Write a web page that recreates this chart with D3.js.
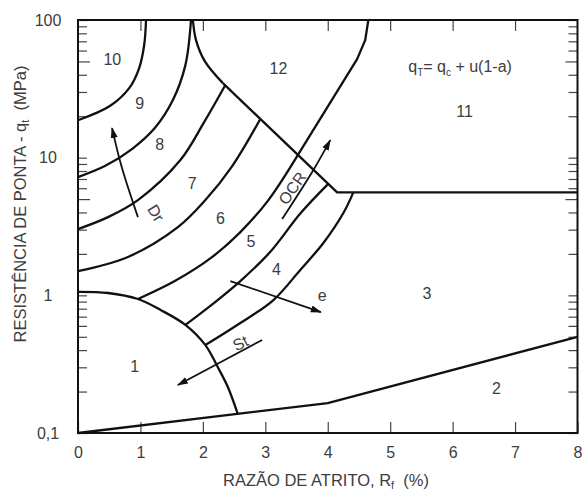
<!DOCTYPE html>
<html>
<head>
<meta charset="utf-8">
<script src="https://cdn.jsdelivr.net/npm/d3@7"></script>
<style>
  body { margin: 0; background: #fff; }
  text { font-family: "Liberation Sans", Arial, sans-serif; fill: #3d3d3d; }
</style>
</head>
<body>
<svg></svg>
<script>
const width = 582;
const height = 490;
const margin = {left: 78, right: 4.5, top: 20, bottom: 57};

// tick values
const xTicks = [0, 1, 2, 3, 4, 5, 6, 7, 8];
const yLabels = [0.1, 1, 10, 100];

// zone boundaries, points as [Rf (%), qt (MPa)]
const zone1Top = [[0, 1.06], [0.48, 1.04], [0.96, 0.94], [1.33, 0.78], [1.72, 0.61], [2.04, 0.435], [2.24, 0.30], [2.40, 0.216], [2.56, 0.137]];
const zone2Top = [[0, 0.1], [4.0, 0.165], [8, 0.5]];
const arc43 = [[2.04, 0.435], [2.60, 0.629], [3.13, 0.924], [3.56, 1.53], [3.93, 2.40], [4.25, 3.96], [4.41, 5.6]];
const arc54 = [[1.72, 0.61], [2.15, 0.86], [2.60, 1.27], [3.08, 2.07], [3.56, 3.93], [4.0, 6.4]];
const arc65 = [[0.96, 0.94], [1.55, 1.27], [2.13, 1.87], [2.60, 2.88], [3.05, 4.92], [3.53, 10.6]];
const line1211 = [[3.53, 10.6], [4.47, 52], [4.60, 71.4], [4.65, 100]];
const arc76 = [[0, 1.50], [0.80, 1.90], [1.60, 3.13], [2.04, 4.92], [2.47, 8.69], [2.92, 19.1]];
const arc87 = [[0, 3.03], [0.48, 3.70], [0.96, 4.92], [1.64, 9.61], [2.02, 18.1], [2.36, 33.7]];
const arc98 = [[0, 7.23], [0.43, 8.69], [0.87, 11.6], [1.23, 16.4], [1.52, 26.2], [1.72, 47.0], [1.81, 100]];
const arc109 = [[0, 18.7], [0.51, 23.7], [0.82, 32.0], [0.98, 44.8], [1.06, 65.8], [1.09, 100]];
const zone12Cusp = [[1.84, 100], [1.89, 71.4], [2.03, 50.3], [2.32, 34.8]];
const zone11Bottom = [[2.32, 34.8], [4.15, 5.6], [8, 5.6]];

// trend arrows
const arrowDr = [[0.96, 3.70], [0.70, 8.55], [0.545, 16.4]];
const arrowOCR = [[3.27, 3.58], [3.77, 8.13], [4.04, 13.4]];
const arrowE = [[2.44, 1.27], [3.89, 0.756]];
const arrowSt = [[2.95, 0.474], [1.60, 0.223]];

const zoneLabels = [
  {z: "1", rf: 0.91, qt: 0.304}, {z: "2", rf: 6.70, qt: 0.212},
  {z: "3", rf: 5.59, qt: 1.04}, {z: "4", rf: 3.18, qt: 1.55},
  {z: "5", rf: 2.77, qt: 2.46}, {z: "6", rf: 2.28, qt: 3.61},
  {z: "7", rf: 1.83, qt: 6.49}, {z: "8", rf: 1.31, qt: 12.6},
  {z: "9", rf: 0.99, qt: 24.7}, {z: "10", rf: 0.55, qt: 52},
  {z: "11", rf: 6.19, qt: 21.6}, {z: "12", rf: 3.21, qt: 44.4}
];
const trendLabels = [
  {t: "Dr", rf: 1.25, qt: 3.96, rot: 58},
  {t: "OCR", rf: 3.43, qt: 6.01, rot: -55},
  {t: "St", rf: 2.60, qt: 0.451, rot: -27},
  {t: "e", rf: 3.91, qt: 1.0, rot: 0}
];

const svg = d3.select("svg")
    .attr("width", width)
    .attr("height", height);

const x = d3.scaleLinear()
    .domain([0, 8])
    .range([margin.left, width - margin.right]);

const y = d3.scaleLog()
    .domain([0.1, 100])
    .range([height - margin.bottom, margin.top]);

svg.append("defs").append("marker")
    .attr("id", "head")
    .attr("markerUnits", "userSpaceOnUse")
    .attr("markerWidth", 12)
    .attr("markerHeight", 8)
    .attr("refX", 10)
    .attr("refY", 4)
    .attr("orient", "auto")
  .append("path")
    .attr("d", "M0,0.5L11,4L0,7.5Z")
    .attr("fill", "#111");

// minor log ticks
const yTicks = [];
[0.1, 1, 10].forEach(dec => d3.range(1, 10).forEach(k => yTicks.push(+(k * dec).toPrecision(3))));
yTicks.push(100);
const tickLen = d => (String(d)[0] === "5" ? 12 : 9);

const bottom = svg.append("g")
    .attr("transform", `translate(0,${height - margin.bottom})`)
    .call(d3.axisBottom(x).tickValues(xTicks).tickSizeInner(-11).tickSizeOuter(0).tickPadding(14));
bottom.selectAll("text").style("font-size", "16px").attr("fill", "#3d3d3d");

svg.append("g")
    .attr("transform", `translate(0,${margin.top})`)
    .call(d3.axisTop(x).tickValues(xTicks.slice(1, -1)).tickSizeInner(-11).tickSizeOuter(0).tickFormat(""));

const left = svg.append("g")
    .attr("transform", `translate(${margin.left},0)`)
    .call(d3.axisLeft(y).tickValues(yTicks).tickSizeOuter(0)
      .tickFormat(d => yLabels.includes(d) ? String(d).replace(".", ",") : ""));
left.selectAll(".tick line").attr("x2", d => tickLen(d));
left.selectAll("text")
    .attr("x", -30)
    .attr("text-anchor", "middle")
    .style("font-size", "16px")
    .attr("fill", "#3d3d3d");

const right = svg.append("g")
    .attr("transform", `translate(${width - margin.right},0)`)
    .call(d3.axisRight(y).tickValues(yTicks).tickSizeOuter(0).tickFormat(""));
right.selectAll(".tick line").attr("x2", d => -tickLen(d));

svg.selectAll(".domain").remove();
svg.selectAll(".tick line").attr("stroke", "#444").attr("stroke-width", 1.2);

svg.append("rect")
    .attr("x", x(0))
    .attr("y", y(100))
    .attr("width", x(8) - x(0))
    .attr("height", y(0.1) - y(100))
    .attr("fill", "none")
    .attr("stroke", "#111")
    .attr("stroke-width", 2);

const curve = d3.line().x(d => x(d[0])).y(d => y(d[1])).curve(d3.curveCatmullRom.alpha(0.5));
const straight = d3.line().x(d => x(d[0])).y(d => y(d[1]));

const bounds = svg.append("g")
    .attr("fill", "none")
    .attr("stroke", "#111")
    .attr("stroke-width", 2.3)
    .attr("stroke-linejoin", "round");

[zone1Top, arc43, arc54, arc65, arc76, arc87, arc98, arc109, zone12Cusp].forEach(pts =>
  bounds.append("path").attr("d", curve(pts)));
[zone2Top, line1211, zone11Bottom].forEach(pts =>
  bounds.append("path").attr("d", straight(pts)));

const arrows = svg.append("g")
    .attr("fill", "none")
    .attr("stroke", "#111")
    .attr("stroke-width", 1.8);
[arrowDr, arrowOCR].forEach(pts =>
  arrows.append("path").attr("d", curve(pts)).attr("marker-end", "url(#head)"));
[arrowE, arrowSt].forEach(pts =>
  arrows.append("path").attr("d", straight(pts)).attr("marker-end", "url(#head)"));

svg.append("g")
  .selectAll("text")
  .data(zoneLabels)
  .enter()
  .append("text")
    .attr("x", d => x(d.rf))
    .attr("y", d => y(d.qt))
    .attr("dy", "0.36em")
    .attr("text-anchor", "middle")
    .style("font-size", "16px")
    .text(d => d.z);

svg.append("g")
  .selectAll("text")
  .data(trendLabels)
  .enter()
  .append("text")
    .attr("transform", d => `translate(${x(d.rf)},${y(d.qt)}) rotate(${d.rot})`)
    .attr("dy", "0.36em")
    .attr("text-anchor", "middle")
    .style("font-size", "16px")
    .text(d => d.t);

// formula
const formula = svg.append("text")
    .attr("x", x(5.29))
    .attr("y", y(41.8))
    .style("font-size", "16px");
formula.append("tspan").text("q");
formula.append("tspan").attr("dy", 4).style("font-size", "10px").text("T");
formula.append("tspan").attr("dy", -4).text("= q");
formula.append("tspan").attr("dy", 4).style("font-size", "10px").text("c");
formula.append("tspan").attr("dy", -4).text("\u00a0+ u(1-a)");

// axis titles
const xTitle = svg.append("text")
    .attr("x", 326)
    .attr("y", 486)
    .attr("text-anchor", "middle")
    .style("font-size", "16.5px");
xTitle.append("tspan").text("RAZÃO DE ATRITO, R");
xTitle.append("tspan").attr("dy", 3).style("font-size", "11px").text("f");
xTitle.append("tspan").attr("dy", -3).text("\u00a0\u00a0(%)");

const yTitle = svg.append("text")
    .attr("transform", "translate(26,204) rotate(-90)")
    .attr("text-anchor", "middle")
    .style("font-size", "16.5px");
yTitle.append("tspan").text("RESISTÊNCIA DE PONTA - q");
yTitle.append("tspan").attr("dy", 3).style("font-size", "11px").text("t");
yTitle.append("tspan").attr("dy", -3).text("\u00a0\u00a0(MPa)");
</script>
</body>
</html>
